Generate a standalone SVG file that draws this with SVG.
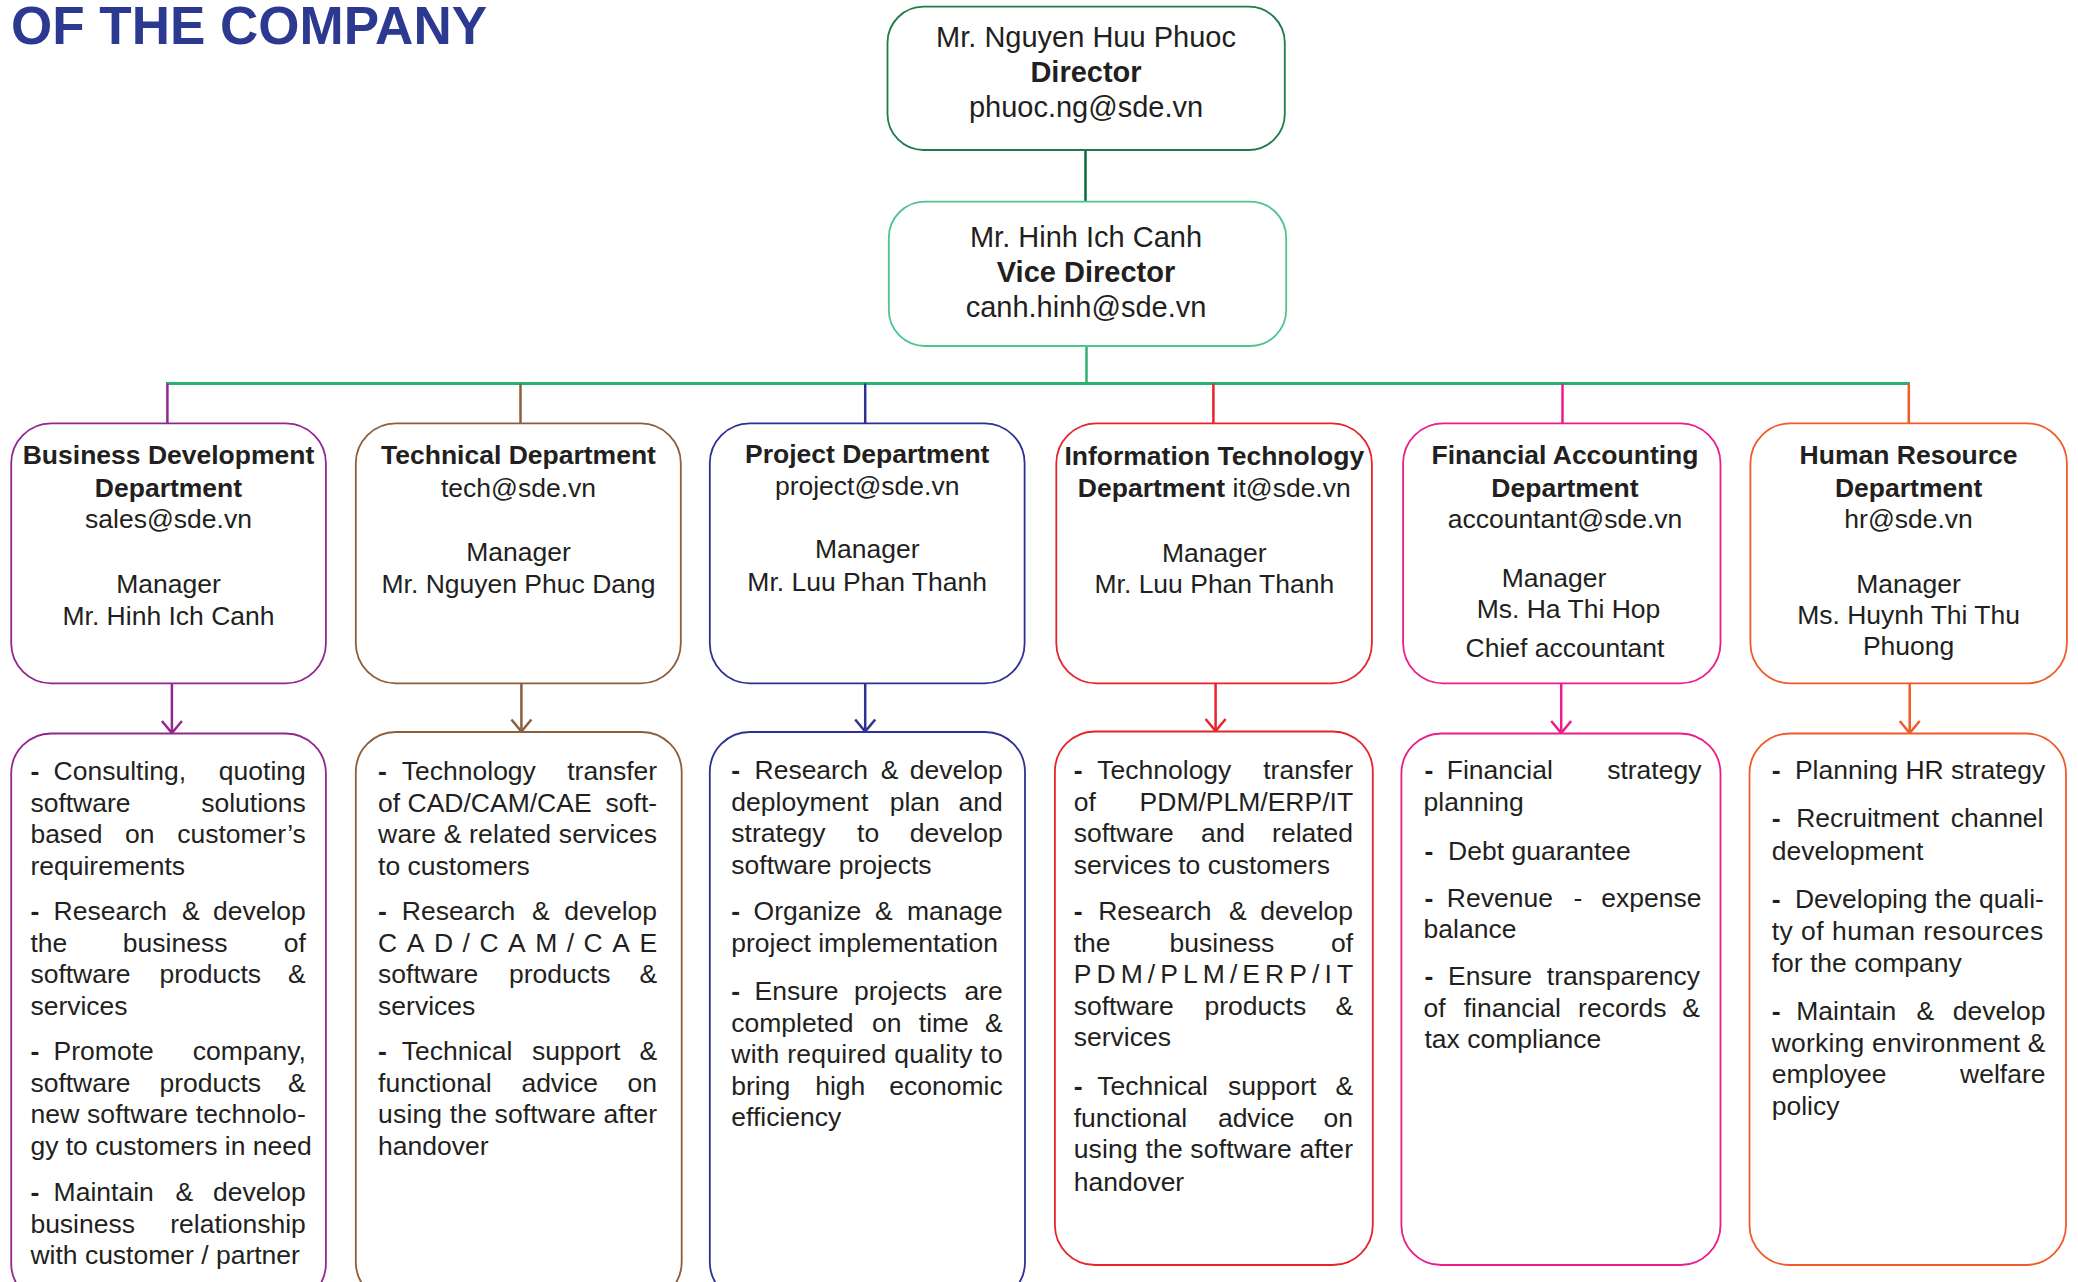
<svg xmlns="http://www.w3.org/2000/svg" width="2078" height="1282" viewBox="0 0 2078 1282">
<style>
.t{font-family:"Liberation Sans",Arial,Helvetica,sans-serif;font-size:26.5px;fill:#231f20}
.big{font-size:29px}
.c{text-anchor:middle}
.e{text-anchor:end}
.b{font-weight:bold}
.box{fill:#fff;stroke-width:1.8}
.title{font-family:"Liberation Sans",Arial,Helvetica,sans-serif;font-size:53px;font-weight:bold;fill:#2b3990}
.ln{fill:none;stroke-width:2.5}
</style>
<defs>
<marker id="mP" viewBox="-14 -12 16 24" refX="0" refY="0" markerWidth="16" markerHeight="24" markerUnits="userSpaceOnUse" orient="auto"><path d="M-12,-10 L0,0 L-12,10" fill="none" stroke="#92278f" stroke-width="2.5"/></marker>
<marker id="mB" viewBox="-14 -12 16 24" refX="0" refY="0" markerWidth="16" markerHeight="24" markerUnits="userSpaceOnUse" orient="auto"><path d="M-12,-10 L0,0 L-12,10" fill="none" stroke="#8b5e3c" stroke-width="2.5"/></marker>
<marker id="mN" viewBox="-14 -12 16 24" refX="0" refY="0" markerWidth="16" markerHeight="24" markerUnits="userSpaceOnUse" orient="auto"><path d="M-12,-10 L0,0 L-12,10" fill="none" stroke="#2e3192" stroke-width="2.5"/></marker>
<marker id="mR" viewBox="-14 -12 16 24" refX="0" refY="0" markerWidth="16" markerHeight="24" markerUnits="userSpaceOnUse" orient="auto"><path d="M-12,-10 L0,0 L-12,10" fill="none" stroke="#e8232b" stroke-width="2.5"/></marker>
<marker id="mM" viewBox="-14 -12 16 24" refX="0" refY="0" markerWidth="16" markerHeight="24" markerUnits="userSpaceOnUse" orient="auto"><path d="M-12,-10 L0,0 L-12,10" fill="none" stroke="#ec1c8c" stroke-width="2.5"/></marker>
<marker id="mO" viewBox="-14 -12 16 24" refX="0" refY="0" markerWidth="16" markerHeight="24" markerUnits="userSpaceOnUse" orient="auto"><path d="M-12,-10 L0,0 L-12,10" fill="none" stroke="#f15a29" stroke-width="2.5"/></marker>
</defs>
<rect width="2078" height="1282" fill="#fff"/>
<text class="title" x="11" y="43.5">OF THE COMPANY</text>

<g id="connectors">
<line class="ln" x1="1085.5" y1="150" x2="1085.5" y2="202" stroke="#0b6b3a"/>
<line class="ln" x1="1086.5" y1="346" x2="1086.5" y2="383.5" stroke="#2db36f"/>
<line x1="166" y1="383.5" x2="1910" y2="383.5" stroke="#27b36d" stroke-width="3"/>
<line class="ln" x1="167.4" y1="383.5" x2="167.4" y2="423.5" stroke="#92278f"/>
<line class="ln" x1="520.5" y1="383.5" x2="520.5" y2="423.5" stroke="#8b5e3c"/>
<line class="ln" x1="865.2" y1="383.5" x2="865.2" y2="423.5" stroke="#2e3192"/>
<line class="ln" x1="1213.4" y1="383.5" x2="1213.4" y2="423.5" stroke="#e8232b"/>
<line class="ln" x1="1562.5" y1="383.5" x2="1562.5" y2="423.5" stroke="#ec1c8c"/>
<line class="ln" x1="1908.8" y1="383.5" x2="1908.8" y2="423.5" stroke="#f15a29"/>
<line class="ln" x1="171.9" y1="683.5" x2="171.9" y2="733" stroke="#92278f" marker-end="url(#mP)"/>
<line class="ln" x1="521.4" y1="683.5" x2="521.4" y2="731.5" stroke="#8b5e3c" marker-end="url(#mB)"/>
<line class="ln" x1="865.2" y1="683.5" x2="865.2" y2="731.5" stroke="#2e3192" marker-end="url(#mN)"/>
<line class="ln" x1="1215.6" y1="683.5" x2="1215.6" y2="731" stroke="#e8232b" marker-end="url(#mR)"/>
<line class="ln" x1="1561.2" y1="683.5" x2="1561.2" y2="733" stroke="#ec1c8c" marker-end="url(#mM)"/>
<line class="ln" x1="1909.7" y1="683.5" x2="1909.7" y2="733" stroke="#f15a29" marker-end="url(#mO)"/>
</g>

<g id="director">
<rect class="box" x="887.5" y="6.7" width="397.3" height="143.3" rx="36" stroke="#1e7b4a"/>
<text class="t big c" x="1086" y="46.7">Mr. Nguyen Huu Phuoc</text>
<text class="t big c b" x="1086" y="81.7">Director</text>
<text class="t big c" x="1086" y="116.7">phuoc.ng@sde.vn</text>
</g>

<g id="vice-director">
<rect class="box" x="888.8" y="201.7" width="397.4" height="144.3" rx="36" stroke="#4fc48d"/>
<text class="t big c" x="1086" y="246.7">Mr. Hinh Ich Canh</text>
<text class="t big c b" x="1086" y="281.7">Vice Director</text>
<text class="t big c" x="1086" y="316.7">canh.hinh@sde.vn</text>
</g>

<g id="dept-business">
<rect class="box" x="11.2" y="423.3" width="314.7" height="260" rx="40" stroke="#92278f"/>
<text class="t c b" x="168.5" y="464">Business Development</text>
<text class="t c b" x="168.5" y="496.7">Department</text>
<text class="t c" x="168.5" y="528.3">sales@sde.vn</text>
<text class="t c" x="168.5" y="592.7">Manager</text>
<text class="t c" x="168.5" y="625">Mr. Hinh Ich Canh</text>
</g>

<g id="dept-technical">
<rect class="box" x="355.8" y="423.3" width="325" height="260" rx="40" stroke="#8b5e3c"/>
<text class="t c b" x="518.5" y="464">Technical Department</text>
<text class="t c" x="518.5" y="496.7">tech@sde.vn</text>
<text class="t c" x="518.5" y="561">Manager</text>
<text class="t c" x="518.5" y="592.7">Mr. Nguyen Phuc Dang</text>
</g>

<g id="dept-project">
<rect class="box" x="709.8" y="423.3" width="314.8" height="260" rx="40" stroke="#2e3192"/>
<text class="t c b" x="867.2" y="462.7">Project Department</text>
<text class="t c" x="867.2" y="495">project@sde.vn</text>
<text class="t c" x="867.2" y="558.3">Manager</text>
<text class="t c" x="867.2" y="590.7">Mr. Luu Phan Thanh</text>
</g>

<g id="dept-it">
<rect class="box" x="1056.3" y="423.3" width="315.6" height="260" rx="40" stroke="#e8232b"/>
<text class="t c b" x="1214.3" y="465">Information Technology</text>
<text class="t c" x="1214.3" y="496.7"><tspan class="b">Department</tspan> it@sde.vn</text>
<text class="t c" x="1214.3" y="561.7">Manager</text>
<text class="t c" x="1214.3" y="593.3">Mr. Luu Phan Thanh</text>
</g>

<g id="dept-finance">
<rect class="box" x="1403.1" y="423.3" width="317.4" height="260" rx="40" stroke="#ec1c8c"/>
<text class="t c b" x="1565" y="464">Financial Accounting</text>
<text class="t c b" x="1565" y="496.7">Department</text>
<text class="t c" x="1565" y="528.3">accountant@sde.vn</text>
<text class="t c" x="1554" y="586.7">Manager</text>
<text class="t c" x="1568.5" y="618.3">Ms. Ha Thi Hop</text>
<text class="t c" x="1565" y="656.7">Chief accountant</text>
</g>

<g id="dept-hr">
<rect class="box" x="1750.4" y="423.3" width="316.5" height="260" rx="40" stroke="#f15a29"/>
<text class="t c b" x="1908.6" y="464">Human Resource</text>
<text class="t c b" x="1908.6" y="496.7">Department</text>
<text class="t c" x="1908.6" y="528.3">hr@sde.vn</text>
<text class="t c" x="1908.6" y="592.7">Manager</text>
<text class="t c" x="1908.6" y="624">Ms. Huynh Thi Thu</text>
<text class="t c" x="1908.6" y="655">Phuong</text>
</g>

<g id="tasks-business">
<rect class="box" x="11.2" y="733.5" width="314.7" height="570" rx="40" stroke="#92278f"/>
<text class="t" y="780"><tspan class="b" x="30.4">-</tspan><tspan x="53.6">Consulting,</tspan><tspan class="e" x="305.8">quoting</tspan></text>
<text class="t" y="811.5"><tspan x="30.4">software</tspan><tspan class="e" x="305.8">solutions</tspan></text>
<text class="t" y="843"><tspan x="30.4">based</tspan><tspan x="125">on</tspan><tspan class="e" x="305.8">customer’s</tspan></text>
<text class="t" x="30.4" y="874.5">requirements</text>
<text class="t" y="920"><tspan class="b" x="30.4">-</tspan><tspan x="53.6">Research</tspan><tspan x="182.1">&amp;</tspan><tspan class="e" x="305.8">develop</tspan></text>
<text class="t" y="951.5"><tspan x="30.4">the</tspan><tspan x="122.8">business</tspan><tspan class="e" x="305.8">of</tspan></text>
<text class="t" y="983"><tspan x="30.4">software</tspan><tspan x="159.4">products</tspan><tspan class="e" x="305.8">&amp;</tspan></text>
<text class="t" x="30.4" y="1014.5">services</text>
<text class="t" y="1060"><tspan class="b" x="30.4">-</tspan><tspan x="53.6">Promote</tspan><tspan class="e" x="305.8">company,</tspan></text>
<text class="t" y="1091.5"><tspan x="30.4">software</tspan><tspan x="159.4">products</tspan><tspan class="e" x="305.8">&amp;</tspan></text>
<text class="t" x="30.4" y="1123" textLength="275.4" lengthAdjust="spacing">new software technolo-</text>
<text class="t" x="30.4" y="1154.5">gy to customers in need</text>
<text class="t" y="1201"><tspan class="b" x="30.4">-</tspan><tspan x="53.6">Maintain</tspan><tspan x="175.4">&amp;</tspan><tspan class="e" x="305.8">develop</tspan></text>
<text class="t" y="1232.5"><tspan x="30.4">business</tspan><tspan class="e" x="305.8">relationship</tspan></text>
<text class="t" x="30.4" y="1264">with customer / partner</text>
</g>

<g id="tasks-technical">
<rect class="box" x="355.8" y="732" width="325.9" height="570" rx="40" stroke="#8b5e3c"/>
<text class="t" y="780"><tspan class="b" x="378.1">-</tspan><tspan x="401.8">Technology</tspan><tspan class="e" x="657.1">transfer</tspan></text>
<text class="t" y="811.5"><tspan x="378.1">of CAD/CAM/CAE</tspan><tspan class="e" x="657.1">soft-</tspan></text>
<text class="t" x="378.1" y="843" textLength="279" lengthAdjust="spacing">ware &amp; related services</text>
<text class="t" x="378.1" y="874.5">to customers</text>
<text class="t" y="920"><tspan class="b" x="378.1">-</tspan><tspan x="401.8">Research</tspan><tspan x="532.1">&amp;</tspan><tspan class="e" x="657.1">develop</tspan></text>
<text class="t" x="378.1" y="951.5" textLength="279" lengthAdjust="spacing">CAD/CAM/CAE</text>
<text class="t" y="983"><tspan x="378.1">software</tspan><tspan x="508.9">products</tspan><tspan class="e" x="657.1">&amp;</tspan></text>
<text class="t" x="378.1" y="1014.5">services</text>
<text class="t" y="1060"><tspan class="b" x="378.1">-</tspan><tspan x="401.8">Technical</tspan><tspan x="532.1">support</tspan><tspan class="e" x="657.1">&amp;</tspan></text>
<text class="t" y="1091.5"><tspan x="378.1">functional</tspan><tspan x="521.4">advice</tspan><tspan class="e" x="657.1">on</tspan></text>
<text class="t" x="378.1" y="1123" textLength="279" lengthAdjust="spacing">using the software after</text>
<text class="t" x="378.1" y="1154.5">handover</text>
</g>

<g id="tasks-project">
<rect class="box" x="709.8" y="732" width="315.2" height="570" rx="40" stroke="#2e3192"/>
<text class="t" y="779"><tspan class="b" x="731.3">-</tspan><tspan x="754.5">Research</tspan><tspan x="880.8">&amp;</tspan><tspan class="e" x="1002.7">develop</tspan></text>
<text class="t" y="810.5"><tspan x="731.3">deployment</tspan><tspan x="889.7">plan</tspan><tspan class="e" x="1002.7">and</tspan></text>
<text class="t" y="842"><tspan x="731.3">strategy</tspan><tspan x="857.1">to</tspan><tspan class="e" x="1002.7">develop</tspan></text>
<text class="t" x="731.3" y="873.5">software projects</text>
<text class="t" y="920"><tspan class="b" x="731.3">-</tspan><tspan x="753.6">Organize</tspan><tspan x="875">&amp;</tspan><tspan class="e" x="1002.7">manage</tspan></text>
<text class="t" x="731.3" y="951.5">project implementation</text>
<text class="t" y="1000"><tspan class="b" x="731.3">-</tspan><tspan x="754.5">Ensure</tspan><tspan x="854">projects</tspan><tspan class="e" x="1002.7">are</tspan></text>
<text class="t" y="1031.5"><tspan x="731.3">completed</tspan><tspan x="871.9">on</tspan><tspan x="918.8">time</tspan><tspan class="e" x="1002.7">&amp;</tspan></text>
<text class="t" x="731.3" y="1063" textLength="271.4" lengthAdjust="spacing">with required quality to</text>
<text class="t" y="1094.5"><tspan x="731.3">bring</tspan><tspan x="815.2">high</tspan><tspan class="e" x="1002.7">economic</tspan></text>
<text class="t" x="731.3" y="1126">efficiency</text>
</g>

<g id="tasks-it">
<rect class="box" x="1054.9" y="731.5" width="317.9" height="533.5" rx="40" stroke="#e8232b"/>
<text class="t" y="779"><tspan class="b" x="1073.7">-</tspan><tspan x="1097.3">Technology</tspan><tspan class="e" x="1353.1">transfer</tspan></text>
<text class="t" y="810.5"><tspan x="1073.7">of</tspan><tspan class="e" x="1353.1">PDM/PLM/ERP/IT</tspan></text>
<text class="t" y="842"><tspan x="1073.7">software</tspan><tspan x="1200.9">and</tspan><tspan class="e" x="1353.1">related</tspan></text>
<text class="t" x="1073.7" y="873.5">services to customers</text>
<text class="t" y="920"><tspan class="b" x="1073.7">-</tspan><tspan x="1098.2">Research</tspan><tspan x="1229">&amp;</tspan><tspan class="e" x="1353.1">develop</tspan></text>
<text class="t" y="951.5"><tspan x="1073.7">the</tspan><tspan x="1169.6">business</tspan><tspan class="e" x="1353.1">of</tspan></text>
<text class="t" x="1073.7" y="983" textLength="279.4" lengthAdjust="spacing">PDM/PLM/ERP/IT</text>
<text class="t" y="1014.5"><tspan x="1073.7">software</tspan><tspan x="1204.5">products</tspan><tspan class="e" x="1353.1">&amp;</tspan></text>
<text class="t" x="1073.7" y="1046">services</text>
<text class="t" y="1095"><tspan class="b" x="1073.7">-</tspan><tspan x="1097.3">Technical</tspan><tspan x="1228.1">support</tspan><tspan class="e" x="1353.1">&amp;</tspan></text>
<text class="t" y="1126.5"><tspan x="1073.7">functional</tspan><tspan x="1217.9">advice</tspan><tspan class="e" x="1353.1">on</tspan></text>
<text class="t" x="1073.7" y="1158" textLength="279.4" lengthAdjust="spacing">using the software after</text>
<text class="t" x="1073.7" y="1190.5">handover</text>
</g>

<g id="tasks-finance">
<rect class="box" x="1401.4" y="733.5" width="319.1" height="531.5" rx="40" stroke="#ec1c8c"/>
<text class="t" y="779"><tspan class="b" x="1424.5">-</tspan><tspan x="1446.8">Financial</tspan><tspan class="e" x="1701.4">strategy</tspan></text>
<text class="t" x="1423.6" y="810.5">planning</text>
<text class="t" y="860"><tspan class="b" x="1424.5">-</tspan><tspan x="1448.1">Debt guarantee</tspan></text>
<text class="t" y="906.7"><tspan class="b" x="1424.5">-</tspan><tspan x="1446.8">Revenue</tspan><tspan x="1573.6">-</tspan><tspan class="e" x="1701.4">expense</tspan></text>
<text class="t" x="1423.6" y="938.3">balance</text>
<text class="t" y="985"><tspan class="b" x="1424.5">-</tspan><tspan x="1448.1">Ensure</tspan><tspan class="e" x="1700">transparency</tspan></text>
<text class="t" y="1016.7"><tspan x="1423.6">of</tspan><tspan x="1463.7">financial</tspan><tspan x="1578.1">records</tspan><tspan class="e" x="1700">&amp;</tspan></text>
<text class="t" x="1424.5" y="1048.3">tax compliance</text>
</g>

<g id="tasks-hr">
<rect class="box" x="1749.5" y="733.5" width="316.5" height="531.5" rx="40" stroke="#f15a29"/>
<text class="t" y="779"><tspan class="b" x="1771.7">-</tspan><tspan x="1794.9">Planning HR strategy</tspan></text>
<text class="t" y="826.7"><tspan class="b" x="1771.7">-</tspan><tspan x="1796.2">Recruitment</tspan><tspan class="e" x="2043.5">channel</tspan></text>
<text class="t" x="1771.7" y="860">development</text>
<text class="t" y="908.3"><tspan class="b" x="1771.7">-</tspan><tspan x="1794.9">Developing the quali-</tspan></text>
<text class="t" x="1771.7" y="940" textLength="271.6" lengthAdjust="spacing">ty of human resources</text>
<text class="t" x="1771.7" y="971.7">for the company</text>
<text class="t" y="1020"><tspan class="b" x="1771.7">-</tspan><tspan x="1796.2">Maintain</tspan><tspan x="1916.4">&amp;</tspan><tspan class="e" x="2045.5">develop</tspan></text>
<text class="t" x="1771.7" y="1051.7" textLength="273.8" lengthAdjust="spacing">working environment &amp;</text>
<text class="t" y="1083.3"><tspan x="1771.7">employee</tspan><tspan class="e" x="2045.5">welfare</tspan></text>
<text class="t" x="1771.7" y="1115">policy</text>
</g>
</svg>
